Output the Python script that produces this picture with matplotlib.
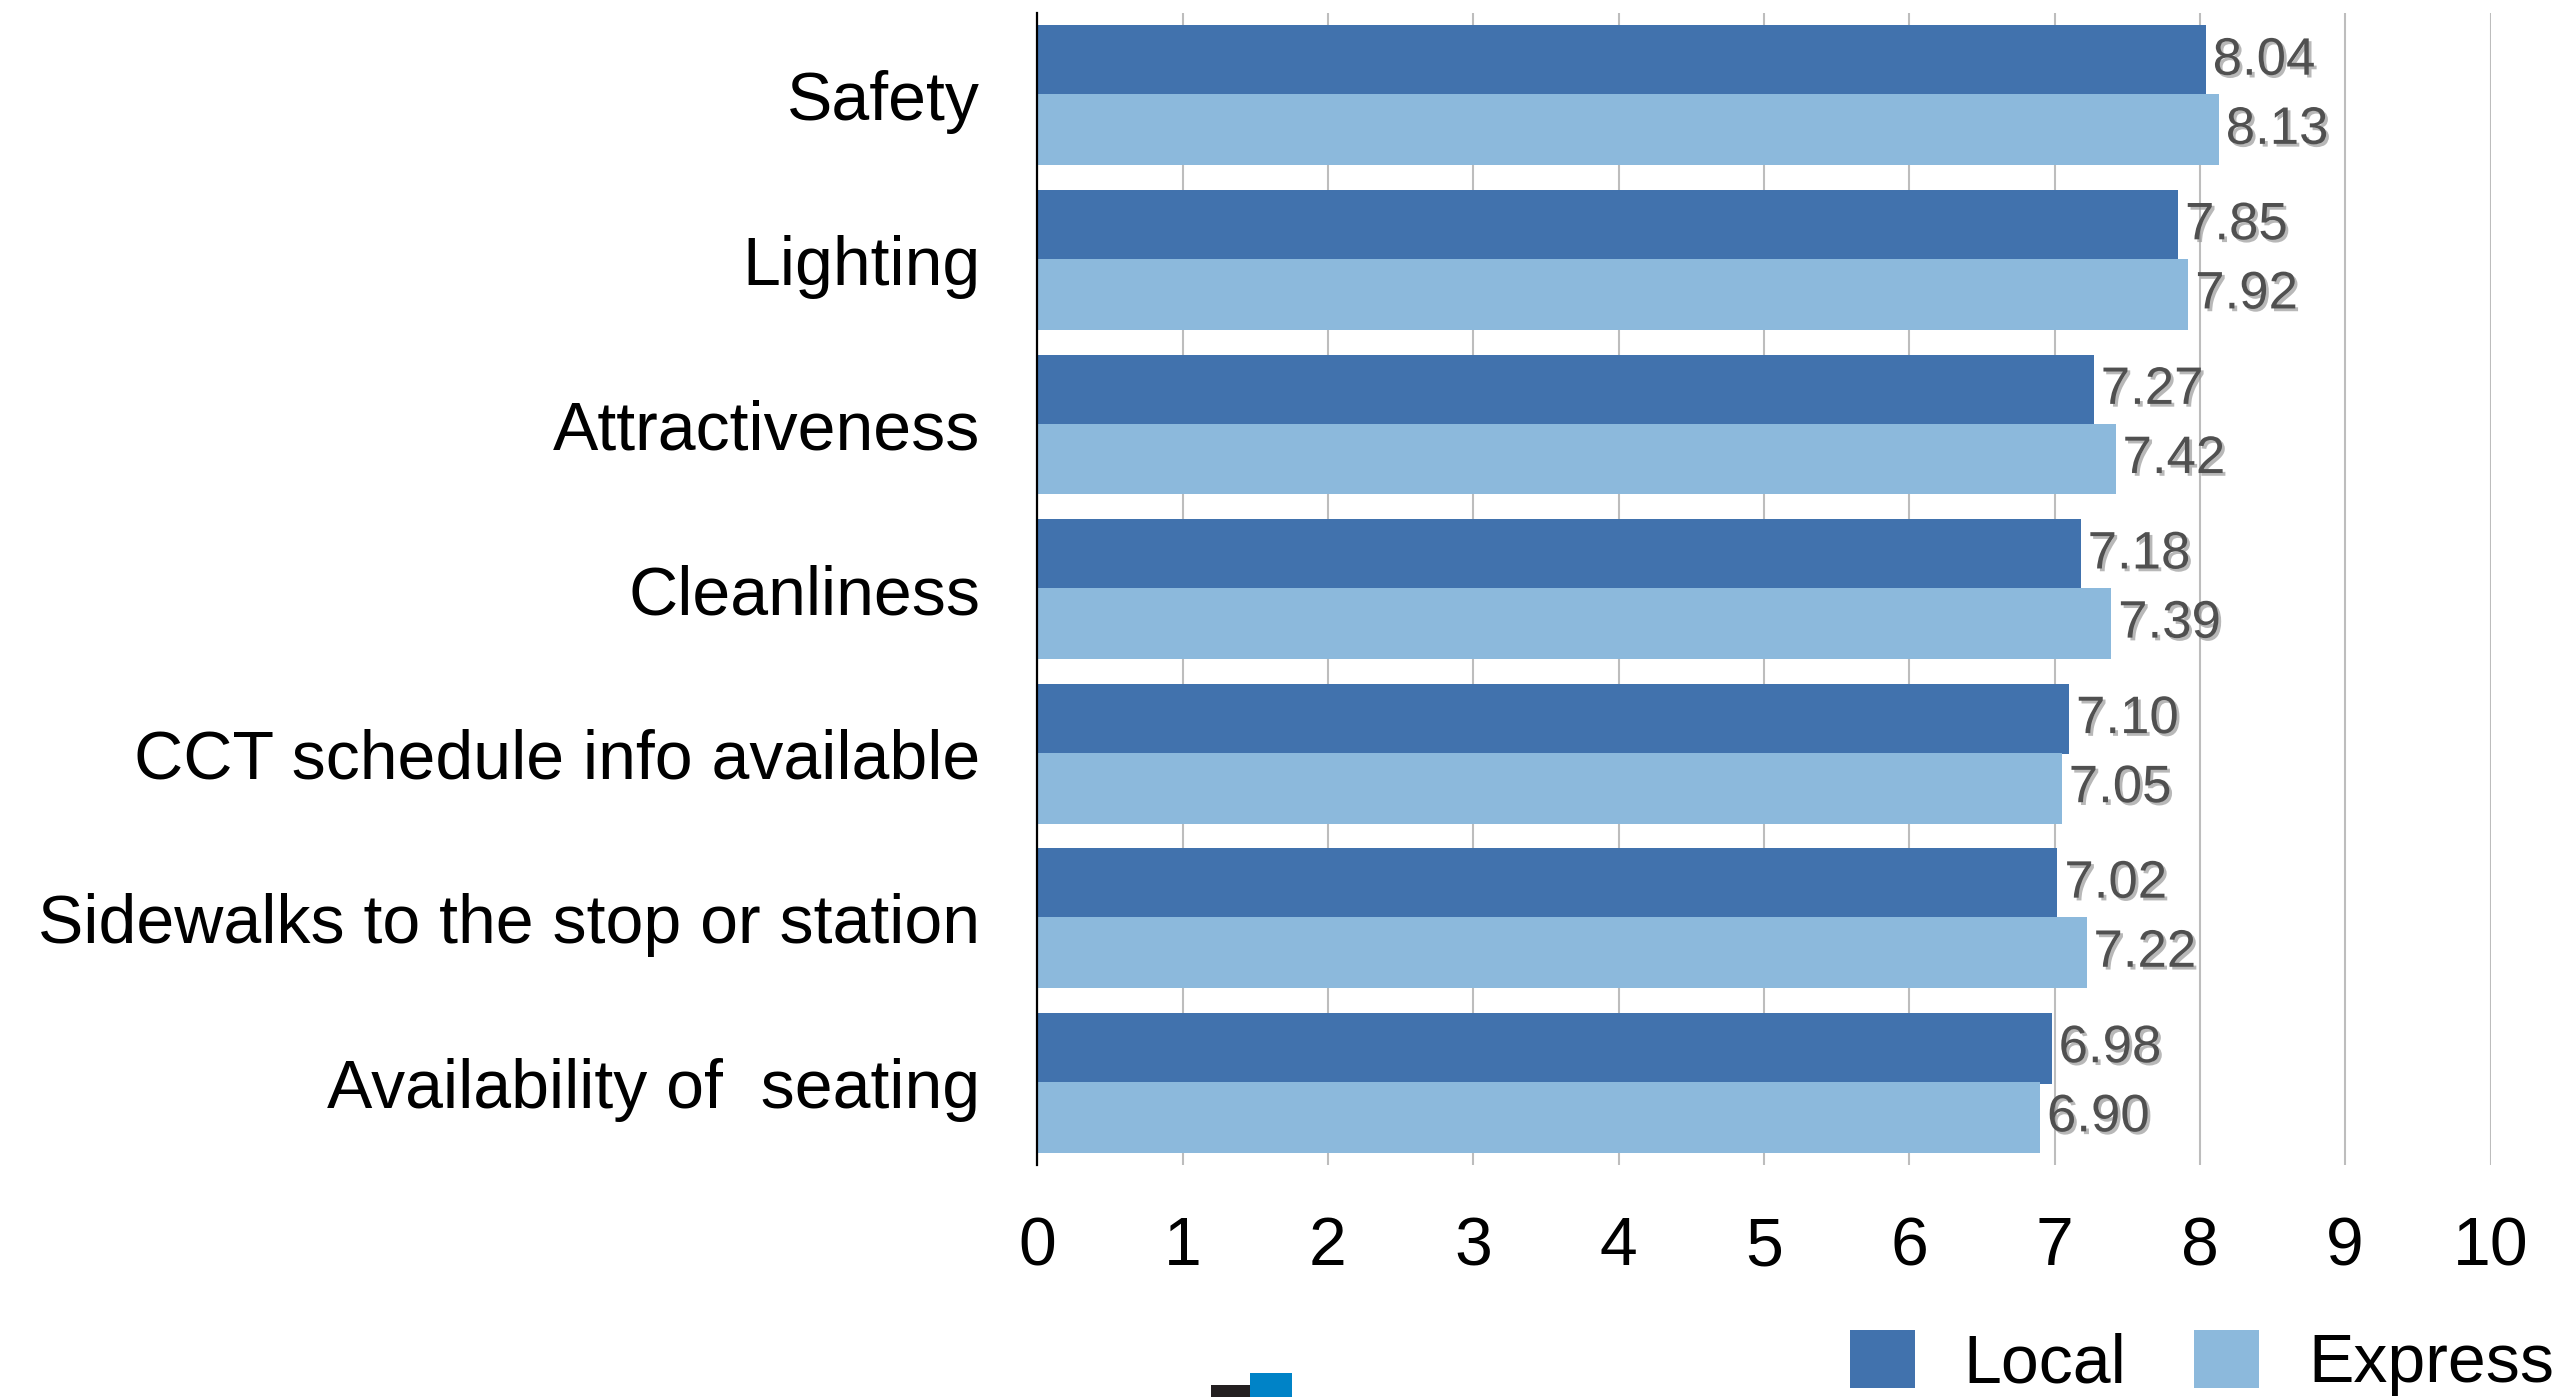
import numpy as np
import matplotlib.pyplot as plt
import matplotlib.patheffects as pe
from matplotlib.patches import Rectangle

plt.rcParams['font.family'] = ['Liberation Sans', 'DejaVu Sans']

# Survey ratings of stop / station amenities (0-10 scale)
categories = [
    'Safety',
    'Lighting',
    'Attractiveness',
    'Cleanliness',
    'CCT schedule info available',
    'Sidewalks to the stop or station',
    'Availability of  seating',
]
local = [8.04, 7.85, 7.27, 7.18, 7.10, 7.02, 6.98]
express = [8.13, 7.92, 7.42, 7.39, 7.05, 7.22, 6.90]
series_names = ['Local', 'Express']
x_ticks = list(range(0, 11))

LOCAL_COLOR = '#4172ad'
EXPRESS_COLOR = '#8cb9dc'

fig = plt.figure(figsize=(25.61, 13.97), dpi=100)
ax = fig.add_axes([0.405, 0.166, 0.5675, 0.8247])

y = np.arange(len(categories))
bar_h = 0.43
off = 0.21
b1 = ax.barh(y - off, local, height=bar_h, color=LOCAL_COLOR, label=series_names[0], zorder=2)
b2 = ax.barh(y + off, express, height=bar_h, color=EXPRESS_COLOR, label=series_names[1], zorder=3)

shadow = [pe.withSimplePatchShadow(offset=(2, -2), shadow_rgbFace='#9a9a9a', alpha=0.7)]
for bars, vals in ((b1, local), (b2, express)):
    for rect, v in zip(bars, vals):
        ax.annotate(f'{v:.2f}', xy=(v, rect.get_y() + rect.get_height() / 2),
                    xytext=(5, 0), textcoords='offset points',
                    ha='left', va='center', fontsize=38, color='#505050',
                    path_effects=shadow, zorder=5)

ax.set_xlim(0, 10)
ax.set_ylim(len(categories) - 0.5, -0.5)
ax.set_xticks(x_ticks)
ax.set_xticklabels([str(t) for t in x_ticks])
ax.set_yticks(y)
ax.set_yticklabels(categories)
ax.tick_params(axis='x', length=0, pad=36, labelsize=49)
ax.tick_params(axis='y', length=0, pad=41, labelsize=49)

ax.grid(axis='x', color='#bdbdbd', linewidth=1.5)
ax.grid(axis='y', visible=False)
ax.set_axisbelow(True)
for s in ('top', 'right', 'bottom'):
    ax.spines[s].set_visible(False)
ax.spines['left'].set_color('black')
ax.spines['left'].set_linewidth(1.6)
ax.spines['left'].set_zorder(4)

fig.legend(handles=[b1, b2], labels=series_names, loc='center left',
           bbox_to_anchor=(1850 / 2561, 0.0243), ncol=2, frameon=False,
           fontsize=49, handlelength=0.95, handleheight=0.95,
           handletextpad=0.72, columnspacing=1.0, borderpad=0, borderaxespad=0)

# footer brand tabs
fig.add_artist(Rectangle((1211 / 2561, 0), 39 / 2561, 12 / 1397,
                         transform=fig.transFigure, color='#231f20', lw=0))
fig.add_artist(Rectangle((1250 / 2561, 0), 42 / 2561, 24 / 1397,
                         transform=fig.transFigure, color='#0083c7', lw=0))

fig.savefig('out.png', dpi=100)
